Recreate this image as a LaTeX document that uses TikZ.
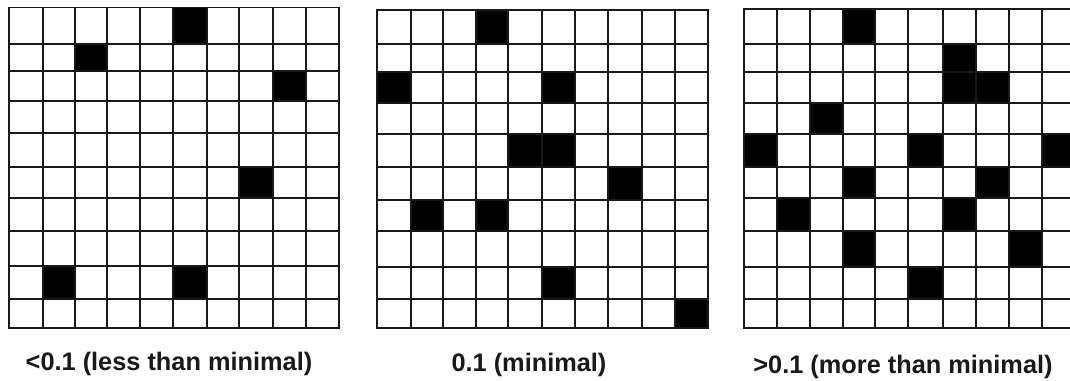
\documentclass[tikz,border=0pt]{standalone}
\usepackage{fontspec}
\setmainfont{Liberation Sans}
\tikzset{
  gridline/.style={draw=black!90, line width=1.3pt, line cap=rect},
  cellfill/.style={fill=black},
  caption/.style={font=\fontsize{19}{22}\selectfont\bfseries, anchor=base, inner sep=0pt, text=black!90}
}
\def\gxA{{9,43.3,75,107.3,140,173.3,206.7,239.3,272.7,306,339.3}}
\def\gyA{{7.5,44,71,101,133.3,166.7,198.3,230.7,265.7,299.3,328.3}}
\def\gxB{{377.3,410.7,443.3,476,508.3,541.7,575,608.3,641.7,675,708.3}}
\def\gyB{{10,44,71.7,103.3,134,166.7,200,230.7,266.7,299.3,328.3}}
\def\gxC{{744.3,777.3,810,842.7,875,907.7,942.7,976,1009.3,1041.7,1074.5}}
\def\gyC{{9.3,44,71.7,103.3,134,166.7,198.3,230.7,266.7,299.3,328.3}}
\newcommand\mygrid[3]{%
  \foreach \r/\c in {#3} {
    \pgfmathsetmacro\xa{#1[\c]}\pgfmathsetmacro\xb{#1[\c+1]}
    \pgfmathsetmacro\ya{#2[\r]}\pgfmathsetmacro\yb{#2[\r+1]}
    \fill[cellfill] (\xa,\ya) rectangle (\xb,\yb);
  }
  \pgfmathsetmacro\xl{#1[0]}\pgfmathsetmacro\xr{#1[10]}
  \pgfmathsetmacro\yt{#2[0]}\pgfmathsetmacro\ybt{#2[10]}
  \foreach \i in {0,...,10} {
    \pgfmathsetmacro\xx{#1[\i]}
    \pgfmathsetmacro\yy{#2[\i]}
    \draw[gridline] (\xx,\yt) -- (\xx,\ybt);
    \draw[gridline] (\xl,\yy) -- (\xr,\yy);
  }
}
\begin{document}
\begin{tikzpicture}[x=0.75pt,y=-0.75pt]
\useasboundingbox (0,0) rectangle (1070,381);
\fill[white] (0,0) rectangle (1070,381);
\clip (0,0) rectangle (1070,381);
\mygrid{\gxA}{\gyA}{0/5,1/2,2/8,5/7,8/1,8/5}
\mygrid{\gxB}{\gyB}{0/3,2/0,2/5,4/4,4/5,5/7,6/1,6/3,8/5,9/9}
\mygrid{\gxC}{\gyC}{0/3,1/6,2/6,2/7,3/2,4/0,4/5,4/9,5/3,5/7,6/1,6/6,7/3,7/8,8/5}
\node[caption] (capA) at (169,370) {<0.1 (less than minimal)};
\node[caption] (capB) at (529,371) {0.1 (minimal)};
\node[caption] (capC) at (903,373) {>0.1 (more than minimal)};
\end{tikzpicture}
\end{document}
